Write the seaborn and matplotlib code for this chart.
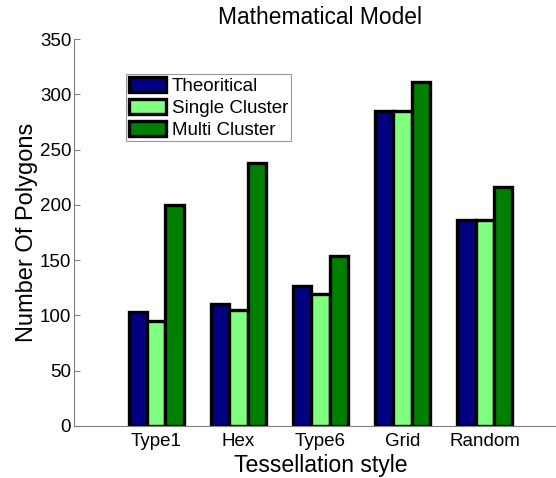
import matplotlib
matplotlib.use("Agg")
import matplotlib.pyplot as plt
import seaborn as sns
import pandas as pd

categories = ["Type1", "Hex", "Type6", "Grid", "Random"]
series = ["Theoritical", "Single Cluster", "Multi Cluster"]
theoritical = [103, 110, 127, 285, 186]
single_cluster = [95, 105, 119, 285, 186]
multi_cluster = [200, 238, 154, 311, 216]
colors = ["#000080", "#80FF80", "#008000"]

df = pd.DataFrame({
    "style": categories * 3,
    "series": [s for s in series for _ in categories],
    "value": theoritical + single_cluster + multi_cluster,
})

sns.set_theme(style="white")
plt.rcParams["font.family"] = ["Liberation Sans", "DejaVu Sans"]
plt.rcParams["text.color"] = "black"
plt.rcParams["axes.labelcolor"] = "black"
plt.rcParams["xtick.color"] = "black"
plt.rcParams["ytick.color"] = "black"

fig = plt.figure(figsize=(5.56, 4.78), dpi=100)
# the plotting area runs past the right edge of the canvas
ax = fig.add_axes([74 / 556, 1 - 426 / 478, 493 / 556, 387 / 478])

sns.barplot(data=df, x="style", y="value", hue="series", order=categories,
            hue_order=series, palette=colors, width=0.67, gap=0,
            edgecolor="black", linewidth=2.4, saturation=1, ax=ax)

ax.set_xlim(-1, 5)
ax.set_ylim(0, 350)
ax.set_yticks(range(0, 351, 50))
ax.tick_params(axis="y", direction="in", length=4, width=0.8, color="#808080",
               labelcolor="black", labelsize=13.5, pad=2, left=True)
ax.tick_params(axis="x", length=0, labelsize=13.5, pad=5, labelcolor="black")
for side in ["top", "right"]:
    ax.spines[side].set_visible(False)
for side in ["left", "bottom"]:
    ax.spines[side].set_color("#808080")
    ax.spines[side].set_linewidth(0.8)

ax.set_title("Mathematical Model", fontsize=16.4, pad=11)
ax.set_xlabel("Tessellation style", fontsize=16.6, labelpad=3)
ax.set_ylabel("Number Of Polygons", fontsize=17, labelpad=1)

leg = ax.legend(loc="upper left", bbox_to_anchor=(52 / 493, 0.9096),
                borderaxespad=0, fontsize=13.5, frameon=True, fancybox=False,
                handlelength=2.0, handleheight=0.85, handletextpad=0.3,
                labelspacing=0.22, borderpad=0.14)
leg.get_frame().set_edgecolor("#808080")
leg.get_frame().set_linewidth(0.8)
for h in leg.legend_handles:
    h.set_edgecolor("black")
    h.set_linewidth(2.4)

fig.savefig("out.png", dpi=100)
